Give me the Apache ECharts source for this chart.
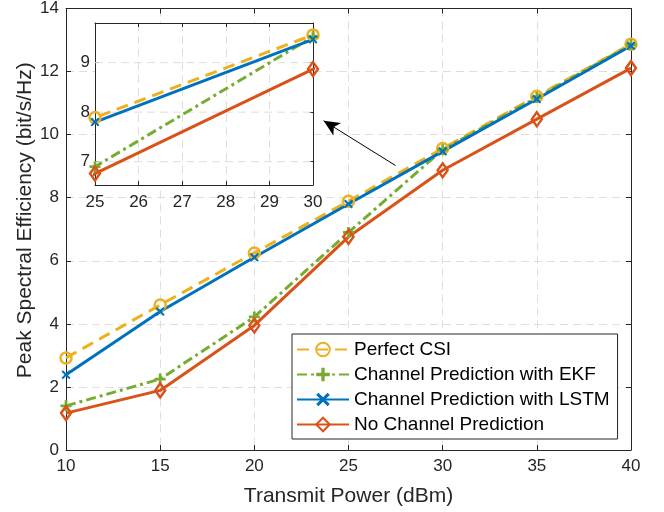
<!DOCTYPE html>
<html><head><meta charset="utf-8">
<script src="https://cdn.jsdelivr.net/npm/echarts@6/dist/echarts.min.js"></script>
<style>html,body{margin:0;padding:0;background:#fff}#c{width:664px;height:512px}</style>
</head><body><div id="c"></div>
<script>
// ---- data ----
const txPower = [10, 15, 20, 25, 30, 35, 40];
const perfectCSI = [2.92, 4.60, 6.25, 7.89, 9.56, 11.22, 12.87];
const ekfPred = [1.40, 2.25, 4.22, 6.90, 9.52, 11.18, 12.85];
const lstmPred = [2.39, 4.39, 6.11, 7.80, 9.47, 11.13, 12.82];
const noPred = [1.17, 1.89, 3.95, 6.76, 8.87, 10.49, 12.11];
const seriesNames = ['Perfect CSI', 'Channel Prediction with EKF', 'Channel Prediction with LSTM', 'No Channel Prediction'];
const insetXRange = [25, 30];
const insetYRange = [6.53, 9.8];
const insetYTicks = [7, 8, 9];
const arrowFrom = [27.5, 9.02];
const arrowTo = [23.68, 10.44];

const FONT = 'Liberation Sans, Arial, Helvetica, sans-serif';
const AX = '#262626';
const GRIDC = '#dedede';
const plusPath = 'path://M3.75,0H6.25V3.75H10V6.25H6.25V10H3.75V6.25H0V3.75H3.75Z';
const xPath = 'path://M0,1.6L1.6,0L5,3.4L8.4,0L10,1.6L6.6,5L10,8.4L8.4,10L5,6.6L1.6,10L0,8.4L3.4,5Z';

const styles = [
  {color:'#EDB120', type:[12,7], symbol:'circle', size:11, hollow:true},
  {color:'#77AC30', type:[10,4,3,4], symbol:plusPath, size:11, hollow:false},
  {color:'#0072BD', type:'solid', symbol:xPath, size:9, hollow:false},
  {color:'#D95319', type:'solid', symbol:'diamond', size:[10,14], hollow:true}
];
const values = [perfectCSI, ekfPred, lstmPred, noPred];

function pairs(arr){ return txPower.map((x,i)=>[x, arr[i]]); }

function makeSeries(k, xi, yi, z){
  const s = styles[k];
  return {
    type:'line', name:seriesNames[k], xAxisIndex:xi, yAxisIndex:yi, z:z,
    data:pairs(values[k]), clip:true,
    color:s.color,
    symbol:s.symbol, symbolSize:s.size, showAllSymbol:true,
    lineStyle:{color:s.color, width:3, type:s.type},
    itemStyle: s.hollow ? {color:'rgba(255,255,255,0)', borderColor:s.color, borderWidth:2.5}
                        : {color:s.color, borderWidth:0},
    emphasis:{disabled:true}
  };
}

const splitStyle = {color:GRIDC, type:[8,5], width:1};
const series = [];
// inset horizontal grid lines at the inset's y ticks (beneath the inset curves)
insetYTicks.forEach(v=>{
  series.push({
    type:'line', name:'_grid'+v, xAxisIndex:2, yAxisIndex:2, z:5,
    data:[[insetXRange[0], v],[insetXRange[1], v]], symbol:'none', silent:true,
    lineStyle:splitStyle, emphasis:{disabled:true}
  });
});
for (let k=0;k<4;k++) series.push(makeSeries(k,0,0,2));
for (let k=0;k<4;k++) series.push(makeSeries(k,2,2,6));
series[insetYTicks.length].markLine = {
  silent:true, symbol:['none','arrow'], symbolSize:[11,16],
  label:{show:false},
  lineStyle:{color:'#000', width:1, type:'solid'},
  data:[[{coord:arrowFrom},{coord:arrowTo}]]
};

const splitL = {show:true, lineStyle:splitStyle};
const axLine = {show:true, onZero:false, lineStyle:{color:AX, width:1}};
const tick = (len)=>({show:true, inside:true, length:len, lineStyle:{color:AX, width:1}});
const lab = (m)=>({show:true, color:AX, fontSize:17, fontFamily:FONT, margin:m});

const option = {
  animation:false,
  backgroundColor:'#fff',
  grid:[
    {left:66, right:33, top:7, bottom:59, show:false},
    {left:95, top:23, width:218, height:162, show:true, backgroundColor:'#fff', borderWidth:0, z:3}
  ],
  xAxis:[
    {type:'value', gridIndex:0, position:'bottom', min:10, max:40, interval:5,
     axisLine:axLine, axisTick:tick(5), axisLabel:lab(8), splitLine:splitL,
     name:'Transmit Power (dBm)', nameLocation:'middle', nameGap:36, nameMoveOverlap:false,
     nameTextStyle:{fontSize:21, color:AX, fontFamily:FONT}},
    {type:'value', gridIndex:0, position:'top', min:10, max:40, interval:5,
     axisLine:axLine, axisTick:tick(5), axisLabel:{show:false}, splitLine:{show:false}},
    {type:'value', gridIndex:1, position:'bottom', min:insetXRange[0], max:insetXRange[1], interval:1, z:4,
     axisLine:axLine, axisTick:tick(4), axisLabel:lab(9), splitLine:splitL},
    {type:'value', gridIndex:1, position:'top', min:insetXRange[0], max:insetXRange[1], interval:1, z:4,
     axisLine:axLine, axisTick:tick(4), axisLabel:{show:false}, splitLine:{show:false}}
  ],
  yAxis:[
    {type:'value', gridIndex:0, position:'left', min:0, max:14, interval:2,
     axisLine:axLine, axisTick:tick(5), axisLabel:lab(7), splitLine:splitL,
     name:'Peak Spectral Efficiency (bit/s/Hz)', nameLocation:'middle', nameGap:30, nameMoveOverlap:false,
     nameTextStyle:{fontSize:21, color:AX, fontFamily:FONT, padding:[0,0,0,18]}},
    {type:'value', gridIndex:0, position:'right', min:0, max:14, interval:2,
     axisLine:axLine, axisTick:tick(5), axisLabel:{show:false}, splitLine:{show:false}},
    {type:'value', gridIndex:1, position:'left', min:insetYRange[0], max:insetYRange[1], z:4,
     axisLine:axLine, axisTick:Object.assign(tick(4),{customValues:insetYTicks}),
     axisLabel:Object.assign(lab(5),{customValues:insetYTicks}), splitLine:{show:false}},
    {type:'value', gridIndex:1, position:'right', min:insetYRange[0], max:insetYRange[1], z:4,
     axisLine:axLine, axisTick:Object.assign(tick(4),{customValues:insetYTicks}),
     axisLabel:{show:false}, splitLine:{show:false}}
  ],
  legend:{
    orient:'vertical', left:292, top:334, data:seriesNames,
    itemWidth:52, itemHeight:17, itemGap:0, padding:[3,8,2,4],
    backgroundColor:'#fff', borderColor:AX, borderWidth:1, borderRadius:0,
    textStyle:{fontSize:19, color:'#000', lineHeight:25, fontFamily:FONT},
    selectedMode:false, z:8
  },
  series:series
};
const chart = echarts.init(document.getElementById('c'), null, {renderer:'canvas'});
chart.setOption(option);
</script></body></html>
